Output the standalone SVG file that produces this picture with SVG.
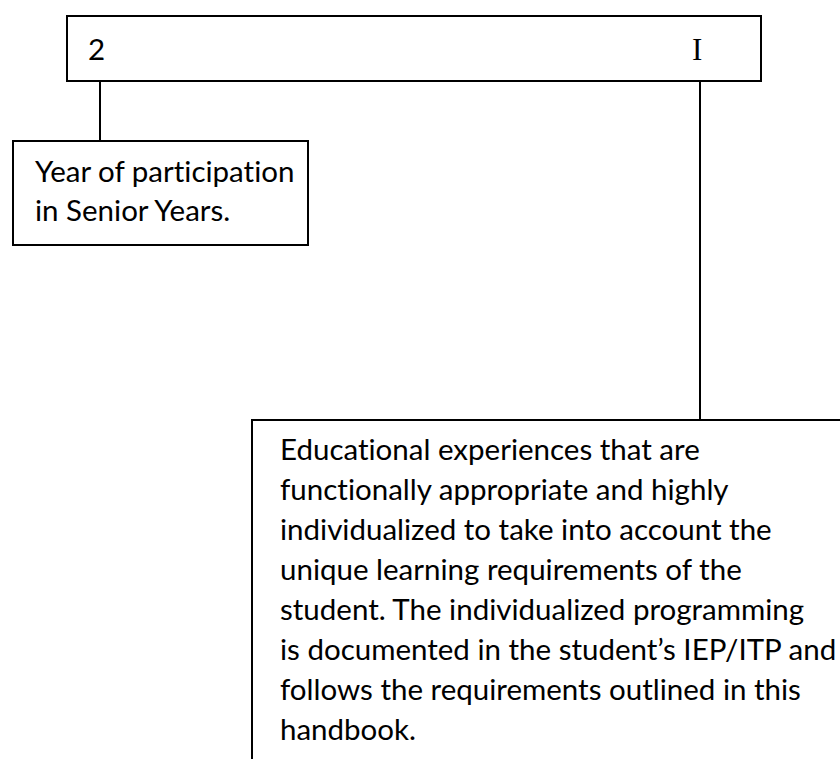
<svg xmlns="http://www.w3.org/2000/svg" width="840" height="759" viewBox="0 0 840 759">
<style>
.box{fill:#fff;stroke:#000;stroke-width:2}
.ln{stroke:#000;stroke-width:2;fill:none}
.t{font-family:Lato,"Liberation Sans",sans-serif;font-size:29.5px;fill:#000;font-variant-ligatures:none}
</style>
<rect width="840" height="759" fill="#fff"/>
<g id="connectors">
<line class="ln" x1="100" y1="81" x2="100" y2="141"/>
<line class="ln" x1="700" y1="81" x2="700" y2="420"/>
</g>
<g id="top">
<rect class="box" x="67" y="16" width="694" height="65"/>
<text class="t" x="88" y="60">2</text>
<text x="692" y="60" style="font-family:'Liberation Serif',serif;font-size:31px">I</text>
</g>
<g id="year">
<rect class="box" x="13" y="141" width="295" height="104"/>
<text class="t" x="35" y="182">Year of participation</text>
<text class="t" x="35" y="221">in Senior Years.</text>
</g>
<g id="desc">
<path class="ln" d="M252 770 V420 H842"/>
<text class="t" x="280" y="460">Educational experiences that are</text>
<text class="t" x="280" y="500">functionally appropriate and highly</text>
<text class="t" x="280" y="540">individualized to take into account the</text>
<text class="t" x="280" y="580">unique learning requirements of the</text>
<text class="t" x="280" y="620">student. The individualized programming</text>
<text class="t" x="280" y="660">is documented in the student’s IEP/ITP and</text>
<text class="t" x="280" y="700">follows the requirements outlined in this</text>
<text class="t" x="280" y="740">handbook.</text>
</g>
</svg>
